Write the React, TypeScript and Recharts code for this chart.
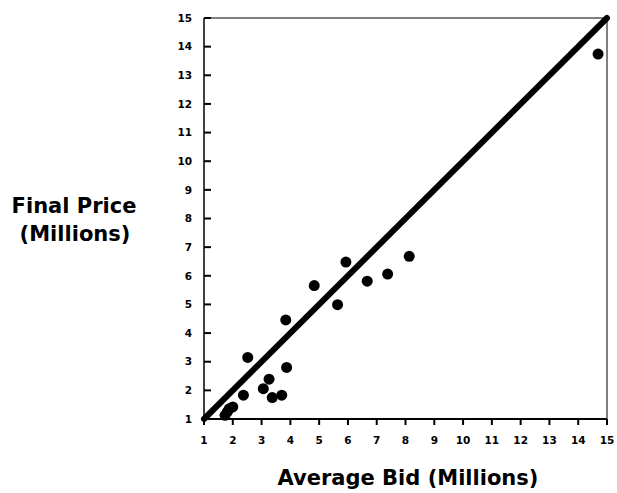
import { ScatterChart, Scatter, XAxis, YAxis, ReferenceLine, ReferenceArea } from "recharts";

// average bid vs. final price, both in millions
const averageBid = [1.73, 1.81, 1.88, 2.0, 2.37, 2.52, 3.06, 3.26, 3.37, 3.7, 3.84, 3.87, 4.83, 5.64, 5.93, 6.67, 7.38, 8.13, 14.69];
const finalPrice = [1.13, 1.25, 1.36, 1.42, 1.83, 3.15, 2.06, 2.39, 1.75, 1.83, 4.46, 2.8, 5.66, 4.99, 6.48, 5.81, 6.06, 6.68, 13.74];

const axisTicks = [1, 2, 3, 4, 5, 6, 7, 8, 9, 10, 11, 12, 13, 14, 15];
// price = bid reference line
const parityLine = [
  { x: 1, y: 1 },
  { x: 15, y: 15 },
];

const points = averageBid.map((bid, i) => ({ bid, price: finalPrice[i] }));

const FONT = "'DejaVu Sans', Verdana, sans-serif";
const tickFont = { fontSize: 10.5, fontWeight: "bold", fontFamily: FONT, fill: "#000" };

export default function App() {
  return (
    <div style={{ position: "absolute", left: 0, top: 0, width: 617, height: 493, background: "#fff" }}>
      <ScatterChart width={617} height={493} margin={{ top: 18, right: 10, left: 0, bottom: 0 }}>
        <ReferenceArea x1={1} x2={15} y1={1} y2={15} fill="none" fillOpacity={0} stroke="#000" strokeWidth={1} />
        <XAxis
          type="number"
          dataKey="bid"
          domain={[1, 15]}
          ticks={axisTicks}
          interval={0}
          height={74}
          tickSize={6}
          tickMargin={12}
          tickLine={{ stroke: "#000", strokeWidth: 2 }}
          axisLine={{ stroke: "#000", strokeWidth: 2 }}
          tick={tickFont}
        />
        {/* negative tick size puts the y ticks inside the frame */}
        <YAxis
          type="number"
          dataKey="price"
          domain={[1, 15]}
          ticks={axisTicks}
          interval={0}
          width={204}
          tickSize={-7}
          tickMargin={19}
          tickLine={{ stroke: "#000", strokeWidth: 2 }}
          axisLine={{ stroke: "#000", strokeWidth: 1 }}
          tick={tickFont}
        />
        <ReferenceLine
          segment={parityLine}
          stroke="#000"
          strokeWidth={6}
          strokeLinecap="round"
        />
        <Scatter data={points} fill="#000" isAnimationActive={false} shape={(p: any) => <circle cx={p.cx} cy={p.cy} r={5.5} fill="#000" />} />
        <text x={74} y={213} textAnchor="middle" fontSize={21} fontWeight="bold" fontFamily={FONT} fill="#000">
          Final Price
        </text>
        <text x={75} y={241} textAnchor="middle" fontSize={21} fontWeight="bold" fontFamily={FONT} fill="#000">
          (Millions)
        </text>
        <text x={408} y={485} textAnchor="middle" fontSize={21} fontWeight="bold" fontFamily={FONT} fill="#000">
          Average Bid (Millions)
        </text>
      </ScatterChart>
    </div>
  );
}
